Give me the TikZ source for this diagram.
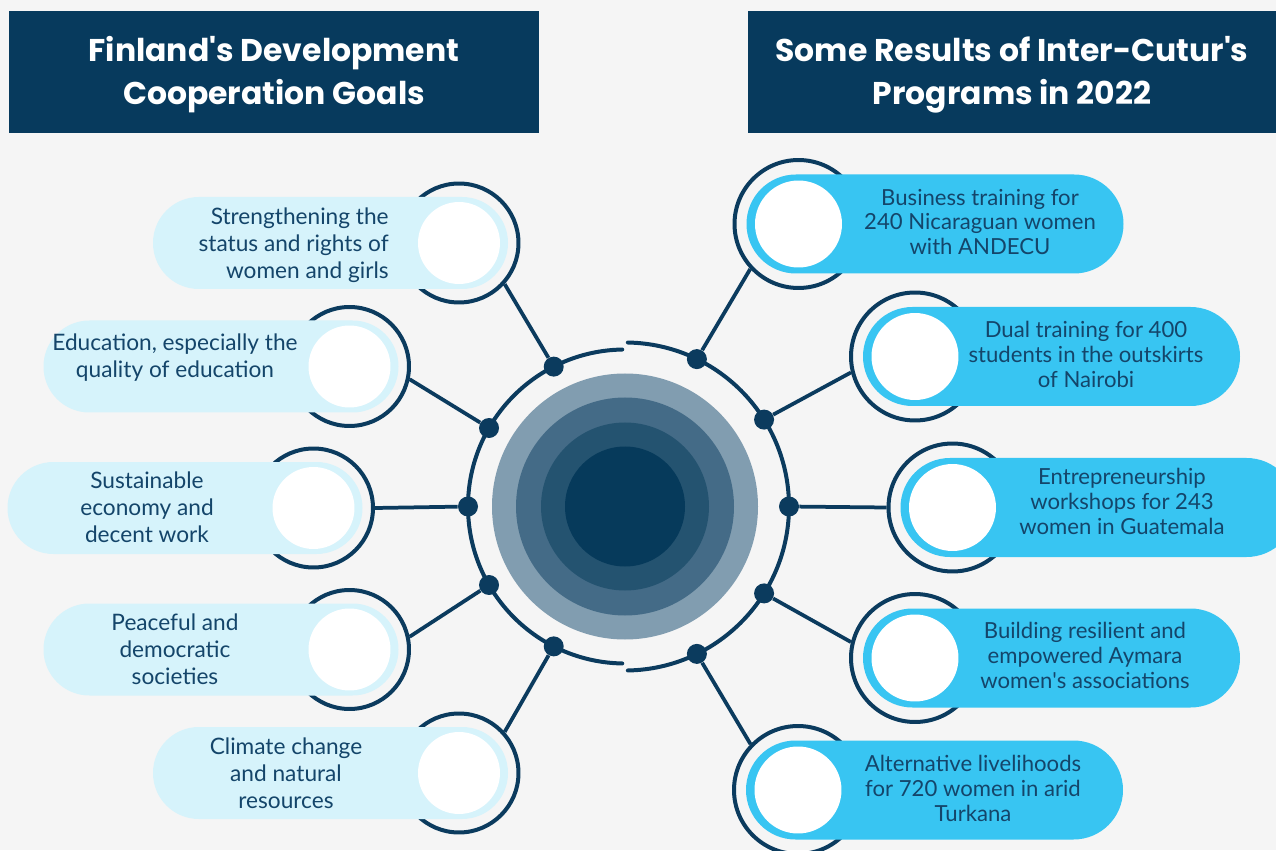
\documentclass[tikz,border=0pt]{standalone}
\usepackage{fontspec}
\setmainfont{Lato}
\newfontfamily\titlefont{Poppins}
\usepackage{tikz}
\usetikzlibrary{positioning, calc}

\definecolor{bgGray}{HTML}{F5F5F5}
\definecolor{navy}{HTML}{073A5D}
\definecolor{lineNavy}{HTML}{0B3B5E}
\definecolor{paleBlue}{HTML}{D6F3FB}
\definecolor{skyBlue}{HTML}{38C5F2}
\definecolor{textNavy}{HTML}{14456A}
\definecolor{coreA}{HTML}{819DB0}
\definecolor{coreB}{HTML}{446B87}
\definecolor{coreC}{HTML}{245370}
\definecolor{coreD}{HTML}{063A5B}

\begin{document}
\begin{tikzpicture}[x=0.02cm, y=0.02cm,
    hub/.style={circle, fill=lineNavy, inner sep=0pt, minimum size=0.4cm},
    ringL/.style={circle, draw=lineNavy, line width=0.08cm, inner sep=0pt, minimum size=2.38cm},
    ringR/.style={circle, draw=lineNavy, line width=0.08cm, inner sep=0pt, minimum size=2.56cm},
    dotL/.style={circle, fill=white, inner sep=0pt, minimum size=1.64cm},
    dotR/.style={circle, fill=white, inner sep=0pt, minimum size=1.74cm},
    pillL/.style={fill=paleBlue, rounded corners=0.919cm},
    pillR/.style={fill=skyBlue, rounded corners=0.989cm},
    txtL/.style={text=textNavy, align=center, inner sep=0pt, font=\fontsize{12.9}{15.3}\selectfont},
    txtR/.style={text=textNavy, align=center, inner sep=0pt, font=\fontsize{12.6}{14.2}\selectfont},
    wire/.style={draw=lineNavy, line width=0.075cm},
    title/.style={text=white, align=center, font=\titlefont\bfseries\fontsize{17.9}{24.4}\selectfont}]

    % 背景
    \useasboundingbox (0,0) rectangle (1276,850);
    \clip (0,0) rectangle (1276,850);
    \fill[bgGray] (0,0) rectangle (1276,850);

    % 見出し
    \fill[navy] (9,717) rectangle (539,839);
    \fill[navy] (748,717) rectangle (1290,839);
    \node[title] (headL) at (274,775.5) {Finland\textquotesingle s Development\\Cooperation Goals};
    \node[title] (headR) at (1012,775.5) {Some Results of Inter-Cutur\textquotesingle s\\Programs in 2022};

    % 中心の円
    \fill[coreA] (625,343.5) circle (133);
    \fill[coreB] (625,343.5) circle (109);
    \fill[coreC] (625,343.5) circle (84);
    \fill[coreD] (625,343.5) circle (60);

    % 円弧
    \draw[lineNavy, line width=0.08cm, line cap=round] (625,343.5) ++(91:157) arc (91:269:157);
    \draw[lineNavy, line width=0.08cm, line cap=round] (625,343.5) ++(-89:164) arc (-89:89:164);

    % 円弧上の点
    \node[hub] (hubL1) at ($(625,343.5)+(117:157)$) {};
    \node[hub] (hubL2) at ($(625,343.5)+(150:157)$) {};
    \node[hub] (hubL3) at ($(625,343.5)+(180:157)$) {};
    \node[hub] (hubL4) at ($(625,343.5)+(210:157)$) {};
    \node[hub] (hubL5) at ($(625,343.5)+(243:157)$) {};
    \node[hub] (hubR1) at ($(625,343.5)+(64:164)$) {};
    \node[hub] (hubR2) at ($(625,343.5)+(32:164)$) {};
    \node[hub] (hubR3) at ($(625,343.5)+(0:164)$) {};
    \node[hub] (hubR4) at ($(625,343.5)+(-32:164)$) {};
    \node[hub] (hubR5) at ($(625,343.5)+(-64:164)$) {};

    % 外側のリング
    \node[ringL] (ringL1) at (459,607) {};
    \node[ringL] (ringL2) at (349.5,483.5) {};
    \node[ringL] (ringL3) at (313.5,342) {};
    \node[ringL] (ringL4) at (349.5,200.5) {};
    \node[ringL] (ringL5) at (459,77) {};
    \node[ringR] (ringR1) at (798.5,626) {};
    \node[ringR] (ringR2) at (915,493.5) {};
    \node[ringR] (ringR3) at (952.5,342.5) {};
    \node[ringR] (ringR4) at (915,192) {};
    \node[ringR] (ringR5) at (798,60) {};

    % 線
    \draw[wire] (hubL1) -- (ringL1.-42);
    \draw[wire] (hubL2) -- (ringL2.-12);
    \draw[wire] (hubL3) -- (ringL3.0);
    \draw[wire] (hubL4) -- (ringL4.12);
    \draw[wire] (hubL5) -- (ringL5.42);
    \draw[wire] (hubR1) -- (ringR1.223.5);
    \draw[wire] (hubR2) -- (ringR2.194);
    \draw[wire] (hubR3) -- (ringR3.180);
    \draw[wire] (hubR4) -- (ringR4.166);
    \draw[wire] (hubR5) -- (ringR5.136.5);

    % 帯
    \fill[pillL] (153,561) rectangle (508,653);
    \fill[pillL] (43.5,437.5) rectangle (398.5,529.5);
    \fill[pillL] (7.5,296) rectangle (362.5,388);
    \fill[pillL] (43.5,154.5) rectangle (398.5,246.5);
    \fill[pillL] (153,31) rectangle (508,123);
    \fill[pillR] (746.5,576.5) rectangle (1123.5,675.5);
    \fill[pillR] (863,444) rectangle (1240,543);
    \fill[pillR] (900.5,293) rectangle (1296,392);
    \fill[pillR] (863,142.5) rectangle (1240,241.5);
    \fill[pillR] (746,10.5) rectangle (1123,109.5);

    % 白い円
    \node[dotL] (dotL1) at (ringL1) {};
    \node[dotL] (dotL2) at (ringL2) {};
    \node[dotL] (dotL3) at (ringL3) {};
    \node[dotL] (dotL4) at (ringL4) {};
    \node[dotL] (dotL5) at (ringL5) {};
    \node[dotR] (dotR1) at (ringR1) {};
    \node[dotR] (dotR2) at (ringR2) {};
    \node[dotR] (dotR3) at (ringR3) {};
    \node[dotR] (dotR4) at (ringR4) {};
    \node[dotR] (dotR5) at (ringR5) {};

    % ラベル
    \node[txtL, align=right, anchor=east] (goal1) at (389,605) {Strengthening the\\status and rights of\\women and girls};
    \node[txtL] (goal2) at (175,492) {Education, especially the\\quality of education};
    \node[txtL] (goal3) at (147,343) {Sustainable\\economy and\\decent work};
    \node[txtL] (goal4) at (175,201) {Peaceful and\\democratic\\societies};
    \node[txtL] (goal5) at (286,77) {Climate change\\and natural\\resources};
    \node[txtR] (result1) at (980,628) {Business training for\\240 Nicaraguan women\\with ANDECU};
    \node[txtR] (result2) at (1086,496) {Dual training for 400\\students in the outskirts\\of Nairobi};
    \node[txtR] (result3) at (1122,349) {Entrepreneurship\\workshops for 243\\women in Guatemala};
    \node[txtR] (result4) at (1085,195) {Building resilient and\\empowered Aymara\\women\textquotesingle s associations};
    \node[txtR] (result5) at (973,62) {Alternative livelihoods\\for 720 women in arid\\Turkana};

\end{tikzpicture}
\end{document}
